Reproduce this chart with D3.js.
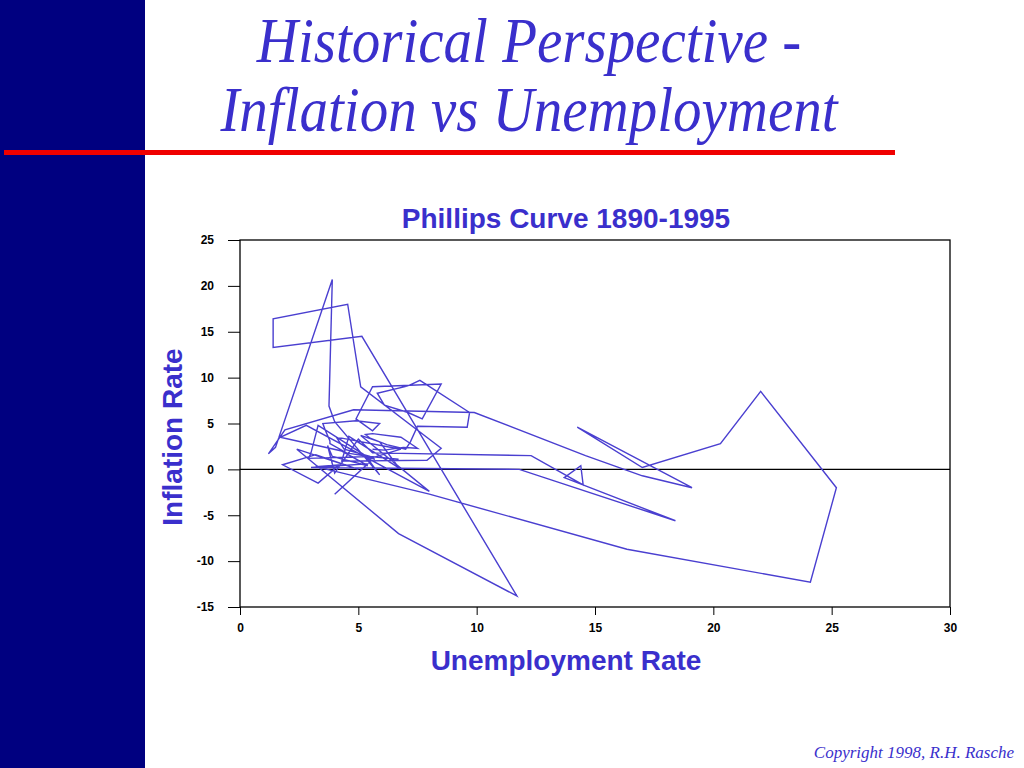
<!DOCTYPE html>
<html><head><meta charset="utf-8">
<script src="https://cdn.jsdelivr.net/npm/d3@7"></script>
<style>
html,body{margin:0;padding:0;background:#fff;}
svg{display:block;}
</style></head>
<body>
<svg id="c" width="1024" height="768"></svg>
<script>
// ---- data ----
const years = d3.range(1890, 1996);
const unemployment = [
 4.0,5.4,3.0,11.8,18.4,13.7,14.4,14.5,12.3,5.6,
 5.0,4.0,3.7,3.9,5.4,4.3,1.7,2.8,8.0,5.1,
 5.9,6.7,4.6,4.3,7.9,8.5,5.1,4.55,1.4,1.4,
 5.15,11.7,6.7,2.4,5.0,3.2,1.8,3.3,4.2,3.2,
 8.0,16.35,24.1,25.2,22.0,20.3,17.0,14.25,19.1,17.0,
 14.6,9.9,4.8,1.9,1.2,1.5,3.9,3.76,4.0,5.9,
 5.3,3.3,3.0,2.9,5.5,4.4,4.1,4.3,6.8,5.5,
 5.5,6.7,5.5,5.7,5.2,4.5,3.8,3.8,3.6,3.5,
 4.9,5.9,5.6,4.9,5.6,8.5,7.7,7.1,6.1,5.8,
 7.1,7.6,9.7,9.6,7.5,7.2,7.0,6.2,5.5,5.3,
 5.6,6.8,7.5,6.9,6.1,5.6
];
const inflation = [
 -2.7,0.6,0.2,0.0,-5.6,-0.9,0.4,-1.7,1.5,1.8,
 3.3,-0.4,2.6,1.4,0.4,2.0,3.5,4.8,-2.4,3.7,
 3.0,0.2,3.6,0.9,1.0,2.3,9.0,18.0,16.4,13.3,
 14.5,-13.8,-7.0,2.2,0.0,1.6,0.5,-1.5,0.5,0.3,
 -2.7,-8.7,-12.3,-2.0,8.5,2.8,0.2,4.6,-2.0,-0.7,
 1.5,6.2,6.5,4.3,1.7,2.4,20.7,6.9,5.2,-0.6,
 1.5,4.8,1.8,1.2,1.4,2.2,3.4,3.4,2.2,1.2,
 1.4,1.1,1.4,1.1,1.5,1.8,2.8,3.1,4.3,5.0,
 5.3,5.0,4.2,5.5,9.0,9.3,5.5,6.2,7.0,8.3,
 9.1,9.7,6.2,4.6,4.7,3.0,2.2,2.7,3.4,3.8,
 3.9,3.5,2.3,2.4,2.1,2.2
];
const xTicks = [0,5,10,15,20,25,30];
const yTicks = [-15,-10,-5,0,5,10,15,20,25];

const points = years.map((y,i)=>({year:y, u:unemployment[i], p:inflation[i]}));

const svg = d3.select("#c");
const blue = "#3a2fcc";

// left navy band
svg.append("rect").attr("x",0).attr("y",0).attr("width",145).attr("height",768).attr("fill","#000080");

// title (slightly stretched vertically like the original)
const serif = "'Liberation Serif','Times New Roman',serif";
svg.append("text").attr("transform","translate(529,62) scale(1,1.1)").attr("text-anchor","middle")
  .attr("font-family",serif).attr("font-style","italic")
  .attr("font-size",57).attr("fill",blue).text("Historical Perspective -");
svg.append("text").attr("transform","translate(529,131) scale(1,1.1)").attr("text-anchor","middle")
  .attr("font-family",serif).attr("font-style","italic")
  .attr("font-size",57).attr("fill",blue).text("Inflation vs Unemployment");

// red rule
svg.append("rect").attr("x",4).attr("y",150).attr("width",891).attr("height",5).attr("fill","#f00000");

// chart
const x = d3.scaleLinear().domain([0,30]).range([240,950]);
const y = d3.scaleLinear().domain([-15,25]).range([607,240]);
const sans = "'Liberation Sans',Arial,sans-serif";

svg.append("text").attr("x",566).attr("y",228).attr("text-anchor","middle")
  .attr("font-family",sans).attr("font-weight","bold")
  .attr("font-size",28).attr("fill",blue).text("Phillips Curve 1890-1995");

const fmt = d => String(d);
const xAxis = svg.append("g").attr("transform","translate(0,607)")
  .call(d3.axisBottom(x).tickValues(xTicks).tickSize(8).tickPadding(8).tickFormat(fmt));
const yAxis = svg.append("g").attr("transform","translate(240,0)")
  .call(d3.axisLeft(y).tickValues(yTicks).tickSize(12).tickPadding(14).tickFormat(fmt));
[xAxis,yAxis].forEach(a=>{
  a.select(".domain").remove();
  a.selectAll("line").attr("stroke","#000").attr("stroke-width",1);
  a.selectAll("text").attr("font-family",sans)
   .attr("font-weight","bold").attr("font-size",12).attr("fill","#000");
});

// frame
svg.append("rect").attr("x",x(0)).attr("y",y(25)).attr("width",x(30)-x(0)).attr("height",y(-15)-y(25))
  .attr("fill","none").attr("stroke","#000").attr("stroke-width",1.3);
// zero line
svg.append("line").attr("x1",x(0)).attr("x2",x(30)).attr("y1",y(0)).attr("y2",y(0))
  .attr("stroke","#000").attr("stroke-width",1.3);

// data line
const line = d3.line().x(d=>x(d.u)).y(d=>y(d.p));
svg.append("path").datum(points).attr("d",line).attr("fill","none")
  .attr("stroke","#4a3fd0").attr("stroke-width",1.4).attr("stroke-linejoin","miter");

// axis titles
svg.append("text").attr("x",566).attr("y",670).attr("text-anchor","middle")
  .attr("font-family",sans).attr("font-weight","bold")
  .attr("font-size",28).attr("fill",blue).text("Unemployment Rate");
svg.append("text").attr("transform","translate(182,437) rotate(-90)").attr("text-anchor","middle")
  .attr("font-family",sans).attr("font-weight","bold")
  .attr("font-size",28).attr("fill",blue).text("Inflation Rate");

// copyright
svg.append("text").attr("x",1014).attr("y",758).attr("text-anchor","end")
  .attr("font-family",serif).attr("font-style","italic")
  .attr("font-size",17).attr("fill",blue).text("Copyright 1998, R.H. Rasche");
</script>
</body></html>
